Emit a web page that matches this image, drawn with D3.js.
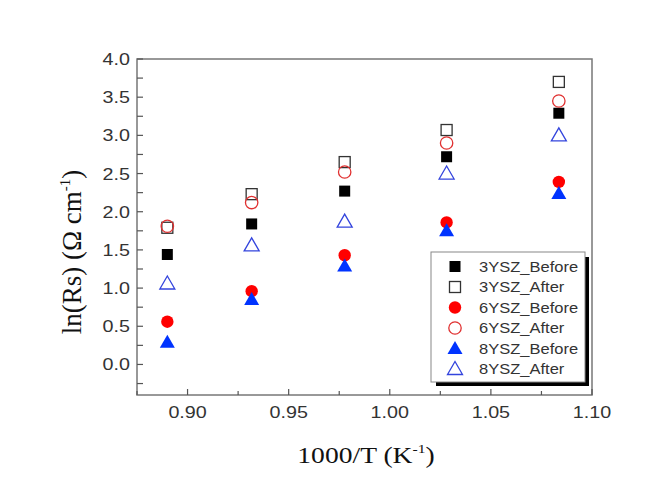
<!DOCTYPE html>
<html><head><meta charset="utf-8">
<script src="https://cdn.jsdelivr.net/npm/d3@7"></script>
<style>body{margin:0;background:#fff}svg{display:block}</style>
</head><body>
<script>
const xValues = [0.890, 0.9317, 0.9777, 1.0281, 1.0836];
const ysz3Before = [1.44, 1.84, 2.27, 2.72, 3.29];
const ysz3After  = [1.79, 2.23, 2.65, 3.07, 3.70];
const ysz6Before = [0.56, 0.96, 1.43, 1.86, 2.39];
const ysz6After  = [1.81, 2.12, 2.52, 2.90, 3.45];
const ysz8Before = [0.29, 0.85, 1.29, 1.75, 2.24];
const ysz8After  = [1.06, 1.56, 1.87, 2.50, 3.00];
const seriesNames = ["3YSZ_Before","3YSZ_After","6YSZ_Before","6YSZ_After","8YSZ_Before","8YSZ_After"];
const xTicks = [0.90, 0.95, 1.00, 1.05, 1.10];
const yTicks = [0.0, 0.5, 1.0, 1.5, 2.0, 2.5, 3.0, 3.5, 4.0];

const series = [
  {name: seriesNames[0], values: ysz3Before, shape: "square", fill: "#000", stroke: "#000"},
  {name: seriesNames[1], values: ysz3After, shape: "square", fill: "none", stroke: "#333"},
  {name: seriesNames[2], values: ysz6Before, shape: "circle", fill: "#ff0000", stroke: "#ff0000"},
  {name: seriesNames[3], values: ysz6After, shape: "circle", fill: "none", stroke: "#e03030"},
  {name: seriesNames[4], values: ysz8Before, shape: "triangle", fill: "#0033ff", stroke: "#0033ff"},
  {name: seriesNames[5], values: ysz8After, shape: "triangle", fill: "none", stroke: "#3344dd"},
];

const W = 657, H = 484;
const L = 137, R = 592, T = 59, B = 395;
const SX = 1.16; // horizontal stretch of the text in the reference
const svg = d3.select("body").append("svg").attr("width", W).attr("height", H);

const x = d3.scaleLinear().domain([0.875, 1.10]).range([L, R]);
const y = d3.scaleLinear().domain([-0.4, 4.0]).range([B, T]);

// frame
svg.append("rect").attr("x", L).attr("y", T).attr("width", R - L).attr("height", B - T)
  .attr("fill", "none").attr("stroke", "#777").attr("stroke-width", 1.5);

// ticks
const axisColor = "#555";
const xMinor = d3.range(0.875, 1.1001, 0.025);
xMinor.forEach(v => {
  const isMajor = xTicks.some(t => Math.abs(t - v) < 1e-6);
  svg.append("line").attr("x1", x(v)).attr("x2", x(v)).attr("y1", B).attr("y2", B - (isMajor ? 6 : 4))
    .attr("stroke", axisColor).attr("stroke-width", 1.2);
});
const yMinor = d3.range(-0.25, 4.0001, 0.25);
yMinor.forEach(v => {
  svg.append("line").attr("x1", L).attr("x2", L + 6).attr("y1", y(v)).attr("y2", y(v))
    .attr("stroke", axisColor).attr("stroke-width", 1.2);
});

// tick labels
const tickFont = "Liberation Sans, Arial, sans-serif";
svg.selectAll(".xl").data(xTicks).enter().append("text")
  .attr("transform", d => `translate(${x(d)},${B + 23}) scale(${SX},1)`).attr("text-anchor", "middle")
  .attr("font-family", tickFont).attr("font-size", 17).attr("fill", "#333")
  .text(d => d.toFixed(2));
svg.selectAll(".yl").data(yTicks).enter().append("text")
  .attr("transform", d => `translate(${L - 7},${y(d) + 6}) scale(${SX},1)`).attr("text-anchor", "end")
  .attr("font-family", tickFont).attr("font-size", 17).attr("fill", "#333")
  .text(d => d.toFixed(1));

// axis titles
const titleFont = "Liberation Serif, Times New Roman, serif";
const xt = svg.append("text").attr("transform", `translate(366,463) scale(1.2,1)`).attr("text-anchor", "middle")
  .attr("font-family", titleFont).attr("font-size", 23).attr("fill", "#111");
xt.append("tspan").text("1000/T (K");
xt.append("tspan").attr("dy", -10).attr("font-size", 13).text("-1");
xt.append("tspan").attr("dy", 10).text(")");

const yt = svg.append("text").attr("transform", "translate(81,252) rotate(-90)")
  .attr("text-anchor", "middle").attr("font-family", titleFont).attr("font-size", 27).attr("fill", "#111");
yt.append("tspan").text("ln(Rs) (Ω cm");
yt.append("tspan").attr("dy", -11).attr("font-size", 15).text("-1");
yt.append("tspan").attr("dy", 11).text(")");

// symbols
function drawMarker(g, s, cx, cy) {
  const sw = s.fill === "none" ? 1.3 : 0;
  let el;
  if (s.shape === "square") {
    el = g.append("rect").attr("x", cx - 5.5).attr("y", cy - 5.5).attr("width", 11).attr("height", 11);
  } else if (s.shape === "circle") {
    el = g.append("circle").attr("cx", cx).attr("cy", cy).attr("r", 6.2);
  } else {
    el = g.append("path").attr("d", `M${cx},${cy - 7.5}L${cx + 7.5},${cy + 5.5}L${cx - 7.5},${cy + 5.5}Z`);
  }
  el.attr("fill", s.fill === "none" ? "none" : s.fill).attr("stroke", s.stroke).attr("stroke-width", sw);
}

const gPts = svg.append("g");
series.forEach(s => {
  s.values.forEach((v, i) => drawMarker(gPts, s, x(xValues[i]), y(v)));
});

// legend
const lg = svg.append("g");
lg.append("rect").attr("x", 436).attr("y", 257).attr("width", 153).attr("height", 129).attr("fill", "#000");
lg.append("rect").attr("x", 431).attr("y", 252).attr("width", 154).attr("height", 130)
  .attr("fill", "#fff").attr("stroke", "#888").attr("stroke-width", 1);
series.forEach((s, i) => {
  const cy = 266.5 + i * 20.5;
  drawMarker(lg, s, 455, cy);
  lg.append("text").attr("transform", `translate(479,${cy + 5}) scale(1.18,1)`).attr("font-family", tickFont)
    .attr("font-size", 14).attr("fill", "#333").text(s.name);
});
</script>
</body></html>
